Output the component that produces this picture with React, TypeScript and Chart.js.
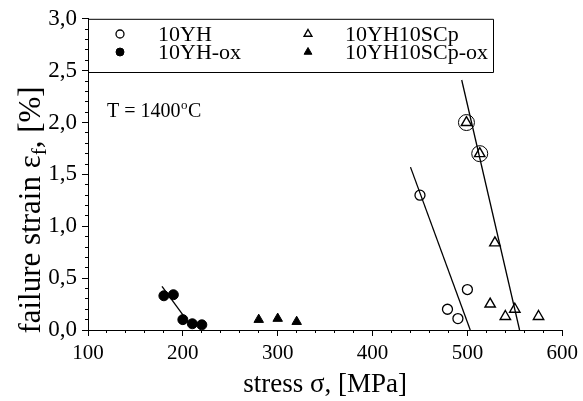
import React, { useEffect, useRef } from 'react';
import { Chart, registerables } from 'chart.js';
import { drawPoint } from 'chart.js/helpers';

Chart.register(...registerables);

// ---- data ----
const yhStress = [450, 479, 490, 500];
const yhStrain = [1.3, 0.2, 0.11, 0.39];

const yhOxStress = [180, 190, 200, 210, 220];
const yhOxStrain = [0.33, 0.34, 0.1, 0.06, 0.05];

const scpStress = [499, 513, 524, 529, 540, 550, 575];
const scpStrain = [2.0, 1.7, 0.25, 0.84, 0.13, 0.2, 0.13];

const scpOxStress = [280, 300, 320];
const scpOxStrain = [0.1, 0.11, 0.08];

const circledStress = [499, 513];
const circledStrain = [2.0, 1.7];

const yhFitStress = [440, 503];
const yhFitStrain = [1.57, 0];
const scpFitStress = [494, 555];
const scpFitStrain = [2.41, 0];
const oxFitStress = [178, 207];
const oxFitStrain = [0.42, 0.06];

const xMin = 100, xMax = 600, xMajorStep = 100, xMinorStep = 20;
const yMin = 0, yMax = 3, yMajorStep = 0.5, yMinorStep = 0.1;

const seriesLabels = ['10YH', '10YH-ox', '10YH10SCp', '10YH10SCp-ox'];
const xTitle = 'stress σ, [MPa]';
const yTitleMain = 'failure strain ε';
const yTitleSub = 'f';
const yTitleEnd = ', [%]';
const tempMain = 'T = 1400';
const tempSup = 'o';
const tempEnd = 'C';

const FONT = '"Liberation Serif", "Times New Roman", serif';

const pts = (xs: number[], ys: number[]) => xs.map((x, i) => ({ x, y: ys[i] }));

const decorPlugin = {
  id: 'decor',
  afterDraw(chart: any) {
    const ctx = chart.ctx as CanvasRenderingContext2D;
    const area = chart.chartArea;
    ctx.save();
    ctx.fillStyle = '#000';
    ctx.strokeStyle = '#000';

    // legend box
    const boxRight = 493, boxBottom = 72;
    ctx.lineWidth = 1;
    ctx.beginPath();
    ctx.moveTo(area.left, area.top + 0.5);
    ctx.lineTo(boxRight + 0.5, area.top + 0.5);
    ctx.lineTo(boxRight + 0.5, boxBottom + 0.5);
    ctx.lineTo(area.left, boxBottom + 0.5);
    ctx.stroke();

    const legendDs = chart.data.datasets.filter((d: any) => seriesLabels.includes(d.label));
    const colMarker = [120, 308];
    const colText = [158, 345];
    const rowY = [34, 52];
    ctx.font = `22px ${FONT}`;
    ctx.textBaseline = 'middle';
    ctx.textAlign = 'left';
    legendDs.forEach((d: any, i: number) => {
      const col = Math.floor(i / 2);
      const row = i % 2;
      ctx.fillStyle = d.backgroundColor;
      ctx.strokeStyle = d.borderColor;
      ctx.lineWidth = d.borderWidth;
      drawPoint(ctx, { pointStyle: d.pointStyle, radius: d.pointStyle === 'triangle' ? 4.5 : 4, rotation: 0, borderWidth: d.borderWidth } as any, colMarker[col], rowY[row]);
      ctx.fillStyle = '#000';
      ctx.fillText(d.label, colText[col], rowY[row] + 1);
    });

    // temperature annotation
    ctx.font = `20px ${FONT}`;
    ctx.textBaseline = 'alphabetic';
    let x = 107;
    const base = 117;
    ctx.fillText(tempMain, x, base);
    x += ctx.measureText(tempMain).width;
    ctx.font = `13px ${FONT}`;
    ctx.fillText(tempSup, x + 0.5, base - 8);
    x += ctx.measureText(tempSup).width + 1;
    ctx.font = `20px ${FONT}`;
    ctx.fillText(tempEnd, x, base);

    // y title with subscript
    const big = `31px ${FONT}`;
    const small = `21px ${FONT}`;
    ctx.font = big;
    const w1 = ctx.measureText(yTitleMain).width;
    const w3 = ctx.measureText(yTitleEnd).width;
    ctx.font = small;
    const w2 = ctx.measureText(yTitleSub).width;
    const total = w1 + w2 + w3;
    ctx.translate(30, 210);
    ctx.rotate(-Math.PI / 2);
    ctx.textBaseline = 'alphabetic';
    let tx = -total / 2;
    ctx.font = big;
    ctx.fillText(yTitleMain, tx, 10);
    tx += w1;
    ctx.font = small;
    ctx.fillText(yTitleSub, tx, 16);
    tx += w2;
    ctx.font = big;
    ctx.fillText(yTitleEnd, tx, 10);
    ctx.restore();
  },
};

export default function App() {
  const ref = useRef<HTMLCanvasElement>(null);
  useEffect(() => {
    if (!ref.current) return;
    const lineDs = (xs: number[], ys: number[]) => ({
      type: 'line' as const,
      data: pts(xs, ys),
      showLine: true,
      borderColor: '#000',
      borderWidth: 1.3,
      pointRadius: 0,
      fill: false,
    });
    const chart = new Chart(ref.current, {
      type: 'scatter',
      data: {
        datasets: [
          lineDs(yhFitStress, yhFitStrain),
          lineDs(scpFitStress, scpFitStrain),
          lineDs(oxFitStress, oxFitStrain),
          {
            data: pts(circledStress, circledStrain),
            pointStyle: 'circle',
            pointRadius: 8,
            backgroundColor: 'rgba(0,0,0,0)',
            borderColor: '#000',
            borderWidth: 1,
          },
          {
            label: seriesLabels[0],
            data: pts(yhStress, yhStrain),
            pointStyle: 'circle',
            pointRadius: 5,
            backgroundColor: '#fff',
            borderColor: '#000',
            borderWidth: 1.3,
          },
          {
            label: seriesLabels[1],
            data: pts(yhOxStress, yhOxStrain),
            pointStyle: 'circle',
            pointRadius: 5,
            backgroundColor: '#000',
            borderColor: '#000',
            borderWidth: 1,
          },
          {
            label: seriesLabels[2],
            data: pts(scpStress, scpStrain),
            pointStyle: 'triangle',
            pointRadius: 6,
            backgroundColor: '#fff',
            borderColor: '#000',
            borderWidth: 1.4,
          },
          {
            label: seriesLabels[3],
            data: pts(scpOxStress, scpOxStrain),
            pointStyle: 'triangle',
            pointRadius: 5.5,
            backgroundColor: '#000',
            borderColor: '#000',
            borderWidth: 1,
          },
        ] as any,
      },
      options: {
        animation: false,
        responsive: false,
        layout: { padding: { left: 0, right: 20, top: 16, bottom: 0 } },
        plugins: { legend: { display: false }, tooltip: { enabled: false } },
        scales: {
          xMinor: {
            type: 'linear', position: 'bottom', weight: 0,
            min: xMin, max: xMax,
            ticks: { display: false, stepSize: xMinorStep, autoSkip: false },
            grid: { drawOnChartArea: false, drawTicks: true, tickLength: 3, color: '#000', lineWidth: 1 },
            border: { display: false },
            afterFit: (s: any) => { s.height = 0; },
          },
          x: {
            type: 'linear', position: 'bottom', weight: 1,
            min: xMin, max: xMax,
            ticks: { stepSize: xMajorStep, autoSkip: false, color: '#000', padding: 5, font: { family: FONT, size: 21 }, maxRotation: 0 },
            grid: { drawOnChartArea: false, drawTicks: true, tickLength: 6, color: '#000', lineWidth: 1 },
            border: { display: true, color: '#000', width: 1 },
            title: {
              display: true, text: xTitle, color: '#000',
              font: { family: FONT, size: 27 }, padding: { top: 2, bottom: 0 },
            },
            afterFit: (s: any) => { s.height = 71; },
          },
          yMinor: {
            type: 'linear', position: 'left', weight: 0,
            min: yMin, max: yMax,
            ticks: { display: false, stepSize: yMinorStep, autoSkip: false },
            grid: { drawOnChartArea: false, drawTicks: true, tickLength: 3, color: '#000', lineWidth: 1 },
            border: { display: false },
            afterFit: (s: any) => { s.width = 0; },
          },
          y: {
            type: 'linear', position: 'left', weight: 1,
            min: yMin, max: yMax,
            ticks: {
              stepSize: yMajorStep, autoSkip: false, color: '#000', padding: 5,
              font: { family: FONT, size: 23 },
              callback: (v: any) => Number(v).toFixed(1).replace('.', ','),
            },
            grid: { drawOnChartArea: false, drawTicks: true, tickLength: 6, color: '#000', lineWidth: 1 },
            border: { display: true, color: '#000', width: 1 },
            afterFit: (s: any) => { s.width = 88; },
          },
        },
      } as any,
      plugins: [decorPlugin],
    });
    return () => chart.destroy();
  }, []);
  return (
    <div style={{ position: 'fixed', left: 0, top: 0, width: 583, height: 401, background: '#fff' }}>
      <canvas ref={ref} width={583} height={401} style={{ display: 'block' }} />
    </div>
  );
}
